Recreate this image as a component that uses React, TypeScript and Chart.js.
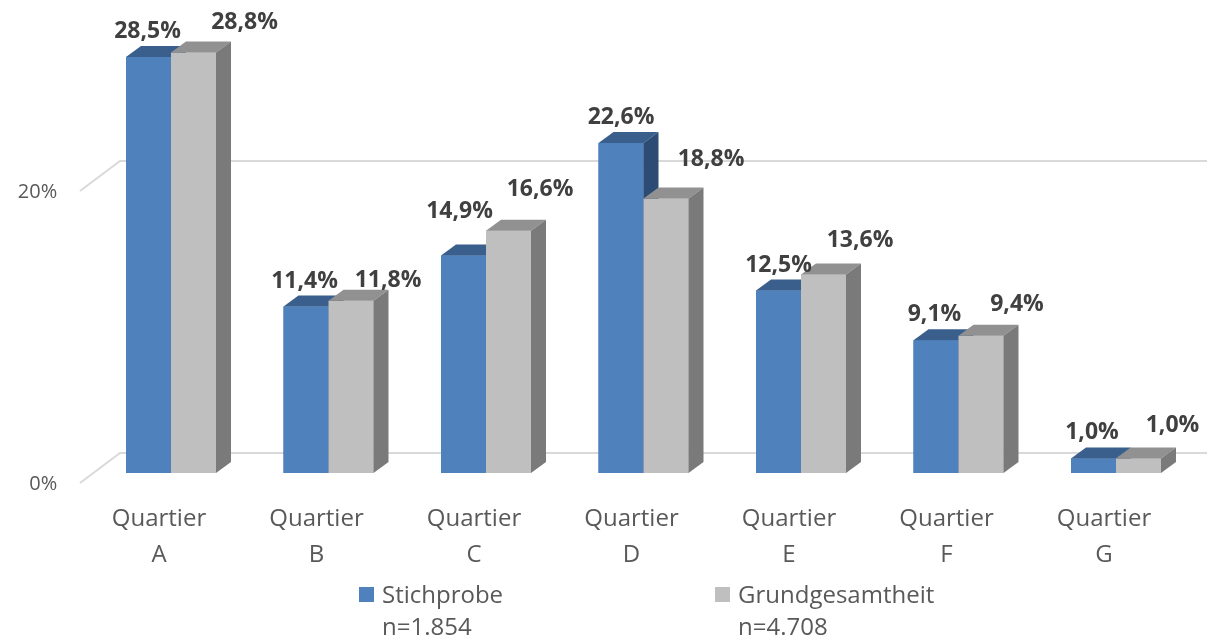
import React, { useEffect, useRef } from "react";
import { Chart, registerables } from "chart.js";

Chart.register(...registerables);

// ---------- data ----------
const categoryLines: string[][] = [
  ["Quartier", "A"],
  ["Quartier", "B"],
  ["Quartier", "C"],
  ["Quartier", "D"],
  ["Quartier", "E"],
  ["Quartier", "F"],
  ["Quartier", "G"],
];
const seriesNames = ["Stichprobe", "Grundgesamtheit"];
const seriesSizes = ["n=1.854", "n=4.708"];
const stichprobe = [28.5, 11.4, 14.9, 22.6, 12.5, 9.1, 1.0];
const grundgesamtheit = [28.8, 11.8, 16.6, 18.8, 13.6, 9.4, 1.0];
const yTicks = [0, 20];
const Y_MAX = 30;

// ---------- style ----------
const FONT = '"Open Sans", "DejaVu Sans", sans-serif';
const FRONT = ["#4F81BD", "#BFBFBF"];
const TOP = ["#3A5F8C", "#919191"];
const SIDE = ["#2D4C73", "#7A7A7A"];
const DEPTH_X = 15;
const DEPTH_Y = -11;
const GRID_COLOR = "#D9D9D9";
// data label offsets relative to the top-centre of each bar's front face
const LABEL_DX = [
  [-1, -1.5, -4, 0, 0, -1.5, -1.5],
  [51, 37, 31.5, 45, 36.5, 36, 34],
];
const LABEL_DY = [
  [-19, -19, -37, -19, -19, -19, -19],
  [-23.5, -13.7, -35, -32.3, -27, -25, -26.4],
];

const fmt = (v: number) => v.toFixed(1).replace(".", ",") + "%";

const threeD = {
  id: "threeD",
  beforeDatasetsDraw(chart: any) {
    const { ctx, chartArea, scales } = chart;
    const y = scales.y;
    const x = scales.x;
    const W = chart.width;
    ctx.save();
    // floor / wall gridlines
    ctx.strokeStyle = GRID_COLOR;
    ctx.lineWidth = 2;
    const frontX = chartArea.left - 12.25;
    const wallX = chartArea.left + 27.75;
    yTicks.forEach((t) => {
      const py = y.getPixelForValue(t);
      ctx.beginPath();
      ctx.moveTo(frontX, py + 10);
      ctx.lineTo(wallX, py - 20);
      ctx.lineTo(W, py - 20);
      ctx.stroke();
    });
    // y tick labels
    ctx.fillStyle = "#595959";
    ctx.font = `20px ${FONT}`;
    ctx.textAlign = "right";
    ctx.textBaseline = "alphabetic";
    yTicks.forEach((t) => {
      const py = y.getPixelForValue(t);
      ctx.fillText(t + "%", chartArea.left - 35, py + 17);
    });
    // x category labels
    ctx.font = `24px ${FONT}`;
    ctx.textAlign = "center";
    categoryLines.forEach((lines, i) => {
      const px = x.getPixelForValue(i) - 12;
      lines.forEach((ln, j) => {
        ctx.fillText(ln, px, chartArea.bottom + 53 + j * 36);
      });
    });
    ctx.restore();
  },
  afterDatasetsDraw(chart: any) {
    const { ctx } = chart;
    const metas = chart.data.datasets.map((_: any, di: number) => chart.getDatasetMeta(di));
    ctx.save();
    // 3D boxes, per category: first series then second, so the second covers the first's side
    categoryLines.forEach((_, i) => {
      metas.forEach((meta: any, di: number) => {
        const el = meta.data[i];
        if (!el) return;
        const { x, y, base, width } = el.getProps(["x", "y", "base", "width"], true);
        const l = x - width / 2;
        const r = x + width / 2;
        // front face
        ctx.fillStyle = FRONT[di];
        ctx.fillRect(l, y, width, base - y);
        // top face
        ctx.fillStyle = TOP[di];
        ctx.beginPath();
        ctx.moveTo(l, y);
        ctx.lineTo(r, y);
        ctx.lineTo(r + DEPTH_X, y + DEPTH_Y);
        ctx.lineTo(l + DEPTH_X, y + DEPTH_Y);
        ctx.closePath();
        ctx.fill();
        // side face
        ctx.fillStyle = SIDE[di];
        ctx.beginPath();
        ctx.moveTo(r, y);
        ctx.lineTo(r + DEPTH_X, y + DEPTH_Y);
        ctx.lineTo(r + DEPTH_X, base + DEPTH_Y);
        ctx.lineTo(r, base);
        ctx.closePath();
        ctx.fill();
      });
    });
    // data labels
    ctx.fillStyle = "#404040";
    ctx.font = `bold 23px ${FONT}`;
    ctx.textAlign = "center";
    ctx.textBaseline = "alphabetic";
    chart.data.datasets.forEach((ds: any, di: number) => {
      metas[di].data.forEach((el: any, i: number) => {
        const { x, y } = el.getProps(["x", "y"], true);
        ctx.fillText(fmt(ds.data[i]), x + LABEL_DX[di][i], y + LABEL_DY[di][i]);
      });
    });
    // legend
    const legendX = [359, 715];
    ctx.font = `24px ${FONT}`;
    ctx.textAlign = "left";
    seriesNames.forEach((name, i) => {
      ctx.fillStyle = FRONT[i];
      ctx.fillRect(legendX[i], 587, 15, 15);
      ctx.fillStyle = "#595959";
      ctx.fillText(name, legendX[i] + 23, 603);
      ctx.fillText(seriesSizes[i], legendX[i] + 23, 635);
    });
    ctx.restore();
  },
};

export default function App() {
  const ref = useRef<HTMLCanvasElement | null>(null);
  useEffect(() => {
    if (!ref.current) return;
    const chart = new Chart(ref.current, {
      type: "bar",
      data: {
        labels: categoryLines.map((l) => l.join(" ")),
        datasets: [
          {
            label: seriesNames[0],
            data: stichprobe,
            backgroundColor: FRONT[0],
            borderWidth: 0,
            categoryPercentage: 90 / 157.5,
            barPercentage: 1,
          },
          {
            label: seriesNames[1],
            data: grundgesamtheit,
            backgroundColor: FRONT[1],
            borderWidth: 0,
            categoryPercentage: 90 / 157.5,
            barPercentage: 1,
          },
        ],
      },
      options: {
        responsive: false,
        animation: false,
        devicePixelRatio: 1,
        layout: { padding: { left: 92.25, right: 12.25, top: 35, bottom: 164 } },
        scales: {
          x: { display: false, grid: { display: false } },
          y: { display: false, min: 0, max: Y_MAX, grid: { display: false } },
        },
        plugins: {
          legend: { display: false },
          tooltip: { enabled: false },
        },
      },
      plugins: [threeD],
    });
    return () => chart.destroy();
  }, []);
  return (
    <div
      style={{
        position: "fixed",
        left: 0,
        top: 0,
        width: 1207,
        height: 637,
        background: "#ffffff",
      }}
    >
      <canvas ref={ref} width={1207} height={637} style={{ display: "block" }} />
    </div>
  );
}
